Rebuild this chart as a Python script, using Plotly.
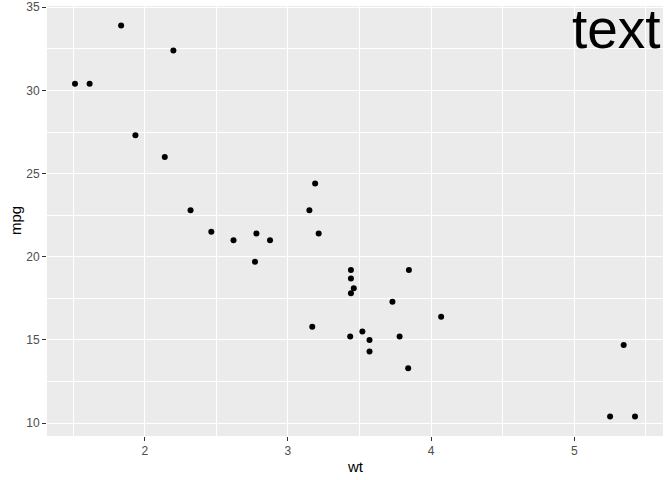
import plotly.graph_objects as go

wt = [2.620, 2.875, 2.320, 3.215, 3.440, 3.460, 3.570, 3.190, 3.150, 3.440, 3.440,
      4.070, 3.730, 3.780, 5.250, 5.424, 5.345, 2.200, 1.615, 1.835, 2.465, 3.520,
      3.435, 3.840, 3.845, 1.935, 2.140, 1.513, 3.170, 2.770, 3.570, 2.780]
mpg = [21.0, 21.0, 22.8, 21.4, 18.7, 18.1, 14.3, 24.4, 22.8, 19.2, 17.8,
       16.4, 17.3, 15.2, 10.4, 10.4, 14.7, 32.4, 30.4, 33.9, 21.5, 15.5,
       15.2, 13.3, 19.2, 27.3, 26.0, 30.4, 15.8, 19.7, 15.0, 21.4]
x_ticks = [2, 3, 4, 5]
y_ticks = [10, 15, 20, 25, 30, 35]

xr = [min(wt) - 0.05 * (max(wt) - min(wt)), max(wt) + 0.05 * (max(wt) - min(wt))]
yr = [min(mpg) - 0.05 * (max(mpg) - min(mpg)), max(mpg) + 0.05 * (max(mpg) - min(mpg))]

FONT = "Liberation Sans, Arial"

fig = go.Figure(go.Scatter(x=wt, y=mpg, mode="markers",
                           marker=dict(color="black", size=6, line=dict(width=0))))

axis_common = dict(showgrid=True, gridcolor="white", gridwidth=1.1, zeroline=False,
                   ticks="outside", ticklen=4, tickcolor="#333333", tickwidth=1.1,
                   tickfont=dict(family=FONT, size=12, color="#4D4D4D"),
                   showline=False, automargin=False)

fig.update_xaxes(range=xr, tickvals=x_ticks, ticktext=[str(v) for v in x_ticks],
                 minor=dict(tickvals=[1.5, 2.5, 3.5, 4.5, 5.5], showgrid=True, gridcolor="white", gridwidth=0.5, ticks=""),
                 **axis_common)
fig.update_yaxes(range=yr, tickvals=y_ticks, ticktext=[str(v) for v in y_ticks],
                 minor=dict(tickvals=[12.5, 17.5, 22.5, 27.5, 32.5], showgrid=True, gridcolor="white", gridwidth=0.5, ticks=""),
                 **axis_common)

fig.add_annotation(text="wt", xref="paper", yref="paper", x=0.5, y=0, yshift=-20,
                   xanchor="center", yanchor="top", showarrow=False,
                   font=dict(family=FONT, size=15, color="black"))
fig.add_annotation(text="mpg", xref="paper", yref="paper", x=0, y=0.5, xshift=-32,
                   xanchor="center", yanchor="middle", textangle=-90, showarrow=False,
                   font=dict(family=FONT, size=15, color="black"))

fig.add_annotation(text="text", xref="paper", yref="paper", x=1, y=1,
                   xanchor="right", yanchor="top", showarrow=False,
                   font=dict(family=FONT, size=55, color="black"),
                   borderpad=0, yshift=9, xshift=-1)

fig.update_layout(width=672, height=480, plot_bgcolor="#EBEBEB", paper_bgcolor="white",
                  margin=dict(l=47, r=9, t=6, b=44), showlegend=False)

fig.write_html("out.html", config={"displayModeBar": False},
               post_script="document.body.style.margin='0';")
